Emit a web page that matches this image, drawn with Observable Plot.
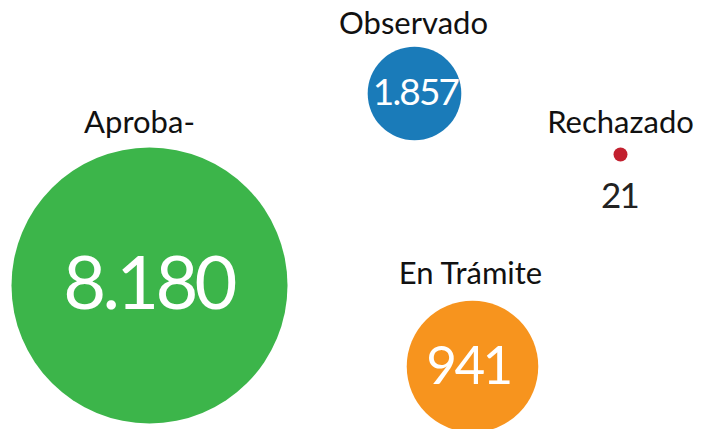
<!DOCTYPE html>
<html>
<head>
<meta charset="utf-8">
<script src="https://cdn.jsdelivr.net/npm/d3@7"></script>
<script src="https://cdn.jsdelivr.net/npm/@observablehq/plot@0.6"></script>
<style>
  html, body { margin: 0; padding: 0; background: #fff; }
  #chart svg { display: block; }
</style>
</head>
<body>
<div id="chart"></div>
<script>
// Data
const categories = ["Aproba-", "Observado", "Rechazado", "En Trámite"];
const values = [8180, 1857, 21, 941];
// bubble areas as drawn in the picture
const bubbleSize = [8180, 941, 21, 1857];
const colors = ["#3cb54a", "#1a7bb9", "#c2202f", "#f7941e"];

// Layout (scale units)
const cx = [149, 414, 620, 472];
const cy = [285, 93, 154, 366];
const labelX = [139, 413, 620, 470];
const labelY = [132, 33, 132, 283];
const valueX = [148, 415, 619, 468];
const valueY = [285, 93, 196, 367];
const valueFont = [74, 37, 35, 53];
const valueInside = [true, true, false, true];

const es = d3.formatLocale({decimal: ",", thousands: ".", grouping: [3], currency: ["", ""]});
const fmt = es.format(",d");

const rows = categories.map((c, i) => ({
  cat: c, value: values[i], size: bubbleSize[i], color: colors[i],
  x: cx[i], y: cy[i], lx: labelX[i], ly: labelY[i], vx: valueX[i], vy: valueY[i], vf: valueFont[i], inside: valueInside[i]
}));

const chart = Plot.plot({
  width: 709,
  height: 429,
  margin: 0,
  style: {fontFamily: "Lato, sans-serif", background: "#fff"},
  x: {domain: [0, 709], range: [0, 709], axis: null},
  y: {domain: [0, 429], range: [0, 429], axis: null},
  r: {type: "sqrt", domain: [0, 8180], range: [0, 138]},
  marks: [
    Plot.dot(rows, {x: "x", y: "y", r: "size", fill: d => d.color, stroke: "none"}),
    Plot.text(rows, {x: "lx", y: "ly", text: "cat", fontSize: 31, fill: "#111", textAnchor: "middle", lineAnchor: "bottom"}),
    Plot.text(rows, {x: "vx", y: "vy", text: d => fmt(d.value), fontSize: d => d.vf,
      fill: d => d.inside ? "#fff" : "#222", textAnchor: "middle", lineAnchor: "middle"})
  ]
});
// tighten the number glyphs (condensed look)
const textGroups = d3.select(chart).selectAll("g[aria-label='text']").nodes();
d3.select(textGroups[textGroups.length - 1]).selectAll("text").style("letter-spacing", "-0.05em");
document.getElementById("chart").appendChild(chart);
</script>
</body>
</html>
